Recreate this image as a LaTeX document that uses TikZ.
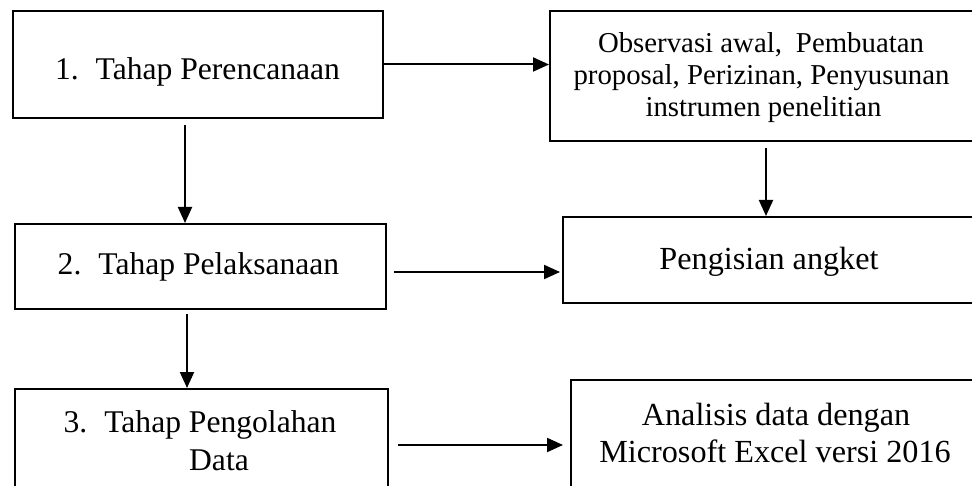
\documentclass[tikz,border=0pt]{standalone}
\usepackage{fontspec}
\setmainfont{Liberation Serif}
\usetikzlibrary{arrows.meta}
\begin{document}
\begin{tikzpicture}[x=1pt,y=-1pt,
  box/.style={draw=black,line width=2pt,inner sep=0pt,anchor=north west,fill=none},
  arr/.style={line width=2pt,-{Triangle[length=16pt,width=14pt]}},
  txtL/.style={anchor=base,inner sep=0pt,font=\fontsize{31.6}{36}\selectfont},
  txtR/.style={anchor=base,inner sep=0pt,font=\fontsize{32.2}{37}\selectfont},
  txtS/.style={anchor=base,inner sep=0pt,font=\fontsize{28.8}{32}\selectfont}]
\useasboundingbox (0,0) rectangle (972,486);
% boxes
\node[box,minimum width=370pt,minimum height=107pt] (b1) at (12,10) {};
\node[box,minimum width=426pt,minimum height=130pt] (b2) at (549,10) {};
\node[box,minimum width=371pt,minimum height=85pt] (b3) at (14,223) {};
\node[box,minimum width=413pt,minimum height=86pt] (b4) at (562,216) {};
\node[box,minimum width=373pt,minimum height=110pt] (b5) at (14,388) {};
\node[box,minimum width=405pt,minimum height=120pt] (b6) at (570,379) {};
% texts
\node[txtL] (t1) at (197.5,80) {1.\hspace{17pt}Tahap Perencanaan};
\node[txtS] (t2a) at (761,53) {Observasi awal,\hspace{14pt}Pembuatan};
\node[txtS] (t2b) at (761.5,85) {proposal, Perizinan, Penyusunan};
\node[txtS] (t2c) at (763.5,117) {instrumen penelitian};
\node[txtL] (t3) at (198.5,275) {2.\hspace{17pt}Tahap Pelaksanaan};
\node[txtR] (t4) at (769,270) {Pengisian angket};
\node[txtL] (t5a) at (200,432) {3.\hspace{17pt}Tahap Pengolahan};
\node[txtL] (t5b) at (219,470) {Data};
\node[txtR] (t6a) at (776,425) {Analisis data dengan};
\node[txtR] (t6b) at (775,462) {Microsoft Excel versi 2016};
% connectors
\draw[arr] (b1.east) -- (b1.east -| b2.west);
\draw[arr,shorten <=6pt] ([xshift=-13pt]b1.south) -- ([xshift=-13pt]b1.south |- b3.north);
\draw[arr,shorten <=6pt] ([xshift=3pt]b2.south) -- ([xshift=3pt]b2.south |- b4.north);
\draw[arr,shorten <=7pt,shorten >=2pt] ([yshift=-5.5pt]b3.east) -- ([yshift=-5.5pt]b3.east -| b4.west);
\draw[arr,shorten <=4pt] ([xshift=-13.5pt]b3.south) -- ([xshift=-13.5pt]b3.south |- b5.north);
\draw[arr,shorten <=9pt,shorten >=7pt] ([yshift=-1pt]b5.east) -- ([yshift=-1pt]b5.east -| b6.west);
\end{tikzpicture}
\end{document}
